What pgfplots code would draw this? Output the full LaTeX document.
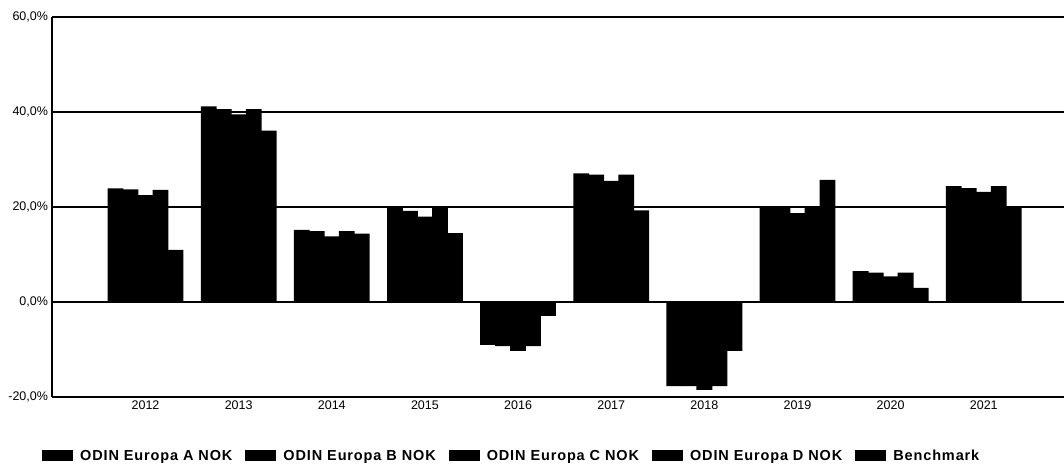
\documentclass[border=0pt]{standalone}
\usepackage{fontspec}
\setmainfont{Liberation Sans}
\newfontfamily\legfont[LetterSpace=6]{Liberation Sans}
\usepackage{pgfplots}
\usepackage{pgfplotstable}
\pgfplotsset{compat=1.18}
\pgfplotstableread{
x A B C D Bm
0 23.9 23.7 22.5 23.6 11.0
1 41.2 40.6 39.5 40.6 36.1
2 15.2 14.9 13.8 14.9 14.4
3 19.8 19.2 18.0 19.8 14.5
4 -9.0 -9.3 -10.3 -9.3 -2.9
5 27.1 26.8 25.5 26.8 19.3
6 -17.7 -17.7 -18.5 -17.7 -10.3
7 20.1 19.9 18.7 19.9 25.7
8 6.5 6.2 5.4 6.2 3.0
9 24.4 24.0 23.2 24.4 19.9
}\data
\begin{document}
\begin{tikzpicture}
\path[use as bounding box] (-52pt,-68pt) rectangle (1012pt,397pt);
\begin{axis}[
  at={(0pt,0pt)}, anchor=south west,
  scale only axis, width=1012pt, height=380pt,
  xmin=-1.004, xmax=9.861, ymin=-20, ymax=60,
  ybar=-0.8pt, bar width=15.8pt,
  axis x line*=bottom, axis y line*=left,
  axis line style={-, line width=2pt, black},
  xtick={0,...,9},
  xticklabels={2012,2013,2014,2015,2016,2017,2018,2019,2020,2021},
  ytick={-20,0,20,40,60},
  yticklabels={{-20,0\%},{0,0\%},{20,0\%},{40,0\%},{60,0\%}},
  major tick length=0pt,
  ymajorgrids, major grid style={black, line width=1.8pt},
  tick label style={font=\fontsize{12.5}{14}\selectfont},
  xticklabel style={yshift=-0.5pt},
  yticklabel style={xshift=-0.5pt},
  legend columns=5,
  legend style={at={(-0.0099,-0.155)}, anchor=west, draw=none, inner sep=0pt,
    font=\fontsize{14.5}{17}\selectfont\legfont\bfseries,
    /tikz/every odd column/.style={column sep=7pt},
    /tikz/every even column/.style={column sep=13pt},
    nodes={inner sep=0pt}},
  legend image code/.code={\fill[black] (0pt,-5.5pt) rectangle (31pt,5.5pt);},
]
\addplot[fill=black, draw=none] table[x=x, y=A] {\data};
\addplot[fill=black, draw=none] table[x=x, y=B] {\data};
\addplot[fill=black, draw=none] table[x=x, y=C] {\data};
\addplot[fill=black, draw=none] table[x=x, y=D] {\data};
\addplot[fill=black, draw=none] table[x=x, y=Bm] {\data};
\legend{ODIN Europa A NOK, ODIN Europa B NOK, ODIN Europa C NOK, ODIN Europa D NOK, Benchmark}
\end{axis}
\end{tikzpicture}
\end{document}
